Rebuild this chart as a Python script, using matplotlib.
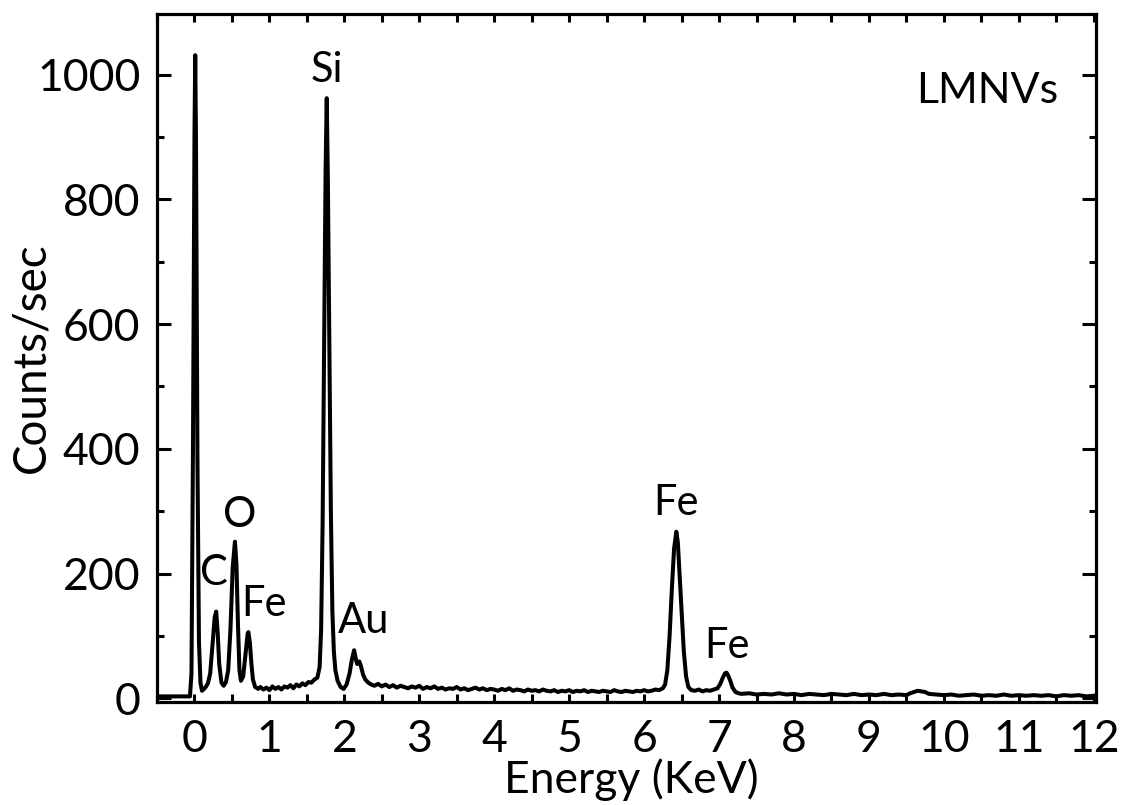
import numpy as np
import matplotlib
matplotlib.use("Agg")
import matplotlib.pyplot as plt
from matplotlib.ticker import MultipleLocator

plt.rcParams['font.family'] = ['Lato', 'DejaVu Sans']

# EDS spectrum, energy in keV and counts/sec
energy = [
    -0.50, -0.30, -0.10, -0.06,
    -0.04, -0.02, 0.00, 0.01, 0.02, 0.04, 0.06, 0.08, 0.10, 0.12,
    0.15, 0.18, 0.21, 0.24, 0.27, 0.29, 0.31, 0.33, 0.36, 0.39,
    0.42, 0.45, 0.48, 0.51, 0.54, 0.56, 0.58, 0.60, 0.62,
    0.65, 0.68, 0.71, 0.72, 0.74, 0.76, 0.78, 0.81,
    0.85, 0.88, 0.92, 0.96, 1.00, 1.04, 1.08, 1.12, 1.16, 1.20, 1.24,
    1.28, 1.32, 1.36, 1.40, 1.44, 1.48, 1.52, 1.56, 1.60, 1.64,
    1.67, 1.69, 1.71, 1.73, 1.75, 1.765, 1.78, 1.80, 1.82, 1.84, 1.86,
    1.88, 1.91, 1.95, 1.99,
    2.03, 2.07, 2.10, 2.13, 2.15, 2.17, 2.20, 2.22, 2.25, 2.28, 2.32, 2.36,
    2.40, 2.45, 2.50, 2.55, 2.60, 2.65, 2.70, 2.75, 2.80, 2.85, 2.90, 2.95,
    3.00, 3.05, 3.10, 3.15, 3.20, 3.25, 3.30, 3.35, 3.40, 3.45, 3.50, 3.55,
    3.60, 3.65, 3.70, 3.75, 3.80, 3.85, 3.90, 3.95, 4.00, 4.05, 4.10, 4.15,
    4.20, 4.25, 4.30, 4.35, 4.40, 4.45, 4.50, 4.55, 4.60, 4.65, 4.70, 4.75,
    4.80, 4.85, 4.90, 4.95, 5.00, 5.05, 5.10, 5.15, 5.20, 5.25, 5.30, 5.35,
    5.40, 5.45, 5.50, 5.55, 5.60, 5.65, 5.70, 5.75, 5.80, 5.85, 5.90, 5.95,
    6.00, 6.05, 6.10, 6.15, 6.20, 6.25,
    6.28, 6.31, 6.34, 6.37, 6.40, 6.43, 6.45, 6.47, 6.50, 6.53, 6.56, 6.59,
    6.63, 6.68, 6.73, 6.78, 6.83, 6.88, 6.93, 6.98,
    7.02, 7.05, 7.08, 7.10, 7.12, 7.15, 7.18, 7.22, 7.26,
    7.30, 7.40, 7.50, 7.60, 7.70, 7.80, 7.90, 8.00, 8.10, 8.20, 8.30, 8.40,
    8.50, 8.60, 8.70, 8.80, 8.90, 9.00, 9.10, 9.20, 9.30, 9.40, 9.50, 9.55,
    9.60, 9.65, 9.70, 9.75, 9.80, 9.90, 10.00, 10.10, 10.20, 10.30, 10.40,
    10.50, 10.60, 10.70, 10.80, 10.90, 11.00, 11.10, 11.20, 11.30, 11.40,
    11.50, 11.60, 11.70, 11.80, 11.90, 12.00,
]
counts = [
    3, 3, 3, 3,
    40, 400, 900, 1031, 900, 380, 90, 25, 12, 14,
    18, 24, 40, 85, 130, 139, 105, 55, 25, 20,
    26, 45, 110, 210, 251, 215, 120, 45, 28,
    35, 70, 104, 106, 88, 55, 30, 18,
    15, 18, 14, 17, 13, 19, 15, 18, 14, 19, 17,
    21, 16, 22, 19, 24, 21, 26, 25, 30, 33,
    50, 110, 280, 560, 850, 962, 830, 560, 300, 140, 75,
    45, 28, 18, 15,
    22, 40, 62, 77, 65, 55, 59, 52, 38, 30, 25, 22,
    20, 23, 19, 22, 18, 21, 17, 20, 18, 16, 19, 17,
    20, 15, 18, 16, 19, 15, 17, 14, 16, 15, 18, 14,
    16, 13, 15, 17, 14, 16, 13, 15, 14, 12, 15, 13,
    16, 12, 14, 13, 11, 14, 12, 13, 11, 14, 12, 11,
    13, 10, 12, 11, 13, 10, 12, 11, 13, 10, 12, 11,
    10, 12, 11, 10, 13, 11, 10, 12, 11, 10, 12, 11,
    13, 11, 12, 14, 13, 16,
    22, 45, 100, 175, 240, 267, 250, 205, 140, 75, 35, 18,
    13, 12, 14, 11, 13, 12, 14, 16,
    24, 33, 40, 41, 37, 28, 17, 10, 8,
    7, 8, 6, 7, 6, 8, 6, 7, 5, 7, 6, 5,
    7, 6, 5, 7, 5, 6, 5, 7, 5, 6, 5, 8,
    10, 12, 11, 10, 7, 6, 5, 6, 4, 5, 6,
    4, 5, 4, 6, 4, 5, 4, 5, 4, 5,
    3, 5, 4, 5, 3, 4,
]

# peak labels: text, energy, baseline height
peak_names = ['Si', 'C', 'O', 'Fe', 'Au', 'Fe', 'Fe']
peak_x = [1.77, 0.26, 0.60, 0.93, 2.26, 6.43, 7.10]
peak_y = [988, 182, 275, 132, 105, 294, 65]

fig = plt.figure(figsize=(11.26, 8.05), dpi=100)
ax = fig.add_axes([157 / 1126, 103 / 805, 939 / 1126, 688 / 805])

ax.plot(energy, counts, color='black', lw=2.9)

ax.set_xlim(-0.5, 12.03)
ax.set_ylim(-6, 1097)
ax.xaxis.set_major_locator(MultipleLocator(1))
ax.xaxis.set_minor_locator(MultipleLocator(0.5))
ax.yaxis.set_major_locator(MultipleLocator(200))
ax.yaxis.set_minor_locator(MultipleLocator(100))

ax.tick_params(which='both', direction='in', top=True, right=True,
               width=2.2, labelsize=32, pad=12)
ax.tick_params(axis='y', which='major', length=10)
ax.tick_params(axis='y', which='minor', length=5)
ax.tick_params(axis='x', which='both', length=6)
for s in ax.spines.values():
    s.set_linewidth(2.3)

for name, x, y in zip(peak_names, peak_x, peak_y):
    ax.text(x, y, name, fontsize=30, ha='center', va='baseline')
ax.text(10.58, 954, 'LMNVs', fontsize=31, ha='center', va='baseline')

fig.text(31 / 1126, 1 - 358 / 805, 'Counts/sec', rotation=90,
         fontsize=33, ha='center', va='center')
fig.text(631 / 1126, 1 - 793 / 805, 'Energy (KeV)', fontsize=32,
         ha='center', va='baseline')

fig.savefig('out.png', dpi=100)
